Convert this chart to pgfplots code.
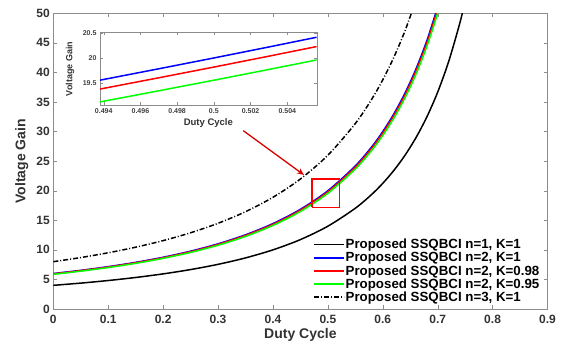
\documentclass[border=0pt]{standalone}
\usepackage{fontspec}
\setmainfont{Liberation Sans}
\usepackage{pgfplots}
\pgfplotsset{compat=1.18}
\usetikzlibrary{arrows.meta}
\definecolor{axgray}{gray}{0.55}
\definecolor{mred}{rgb}{1,0,0}
\definecolor{mblue}{rgb}{0,0,1}
\definecolor{mgreen}{rgb}{0,1,0}
\begin{document}
\begin{tikzpicture}
\begin{axis}[name=main, at={(0,0)}, anchor=south west, scale only axis,
  width=494.2pt, height=295.7pt,
  xmin=0, xmax=0.9, ymin=0, ymax=50,
  xtick={0,0.1,0.2,0.3,0.4,0.5,0.6,0.7,0.8,0.9},
  xticklabels={0,0.1,0.2,0.3,0.4,0.5,0.6,0.7,0.8,0.9},
  ytick={0,5,10,15,20,25,30,35,40,45,50},
  yticklabels={0,5,10,15,20,25,30,35,40,45,50},
  tick align=inside, major tick length=4pt,
  axis line style={axgray}, tick style={axgray},
  ticklabel style={font=\fontsize{12}{14}\selectfont\bfseries, text=black!80},
  xticklabel style={yshift=-3pt},
  xlabel={Duty Cycle}, ylabel={Voltage Gain},
  label style={font=\fontsize{14}{16}\selectfont\bfseries, text=black!80},
  xlabel style={at={(axis description cs:0.5,0)}, anchor=center, yshift=-26pt},
  ylabel style={at={(axis description cs:0,0.5)}, anchor=center, yshift=31.6pt},
  legend style={at={(0.5255,0)}, anchor=south west, xshift=-1pt, yshift=4pt, draw=none, fill=white,
    font=\fontsize{13.3}{14}\selectfont\bfseries, row sep=0pt, inner sep=1pt,
    nodes={inner xsep=1pt, inner ysep=1pt}},
  legend cell align=left,
  legend image code/.code={\draw[#1, line width=1.5pt] (0pt,0pt) -- (30pt,0pt);},
]
\addplot[color=black, line width=1.5pt, smooth] coordinates {
(0,4) (0.05,4.3767) (0.1,4.8148) (0.15,5.3287) (0.2,5.9375) (0.25,6.6667) (0.3,7.5510) (0.35,8.6391) (0.4,10) (0.45,11.7355) (0.5,14) (0.55,17.037) (0.58,19.388) (0.6,21.25) (0.62,23.407) (0.64,25.926) (0.66,28.893) (0.68,32.422) (0.7,36.667) (0.72,41.837) (0.74,48.225) (0.75,52)};
\addlegendentry{Proposed SSQBCI n=1, K=1}
\addplot[color=mblue, line width=1.5pt, smooth] coordinates {
(0,6) (0.05,6.5374) (0.1,7.1605) (0.15,7.8893) (0.2,8.75) (0.25,9.7778) (0.3,11.0204) (0.35,12.5444) (0.4,14.4444) (0.45,16.8595) (0.5,20) (0.55,24.1975) (0.58,27.4376) (0.6,30) (0.62,32.964) (0.64,36.420) (0.66,40.484) (0.68,45.313) (0.7,51.111) (0.71,54.459)};
\addlegendentry{Proposed SSQBCI n=2, K=1}
\addplot[color=mred, line width=1.5pt, smooth] coordinates {
(0,5.946) (0.05,6.4786) (0.1,7.0961) (0.15,7.8183) (0.2,8.6713) (0.25,9.6898) (0.3,10.9212) (0.35,12.4315) (0.4,14.3144) (0.45,16.7078) (0.5,19.82) (0.55,23.9797) (0.58,27.1907) (0.6,29.73) (0.62,32.6673) (0.64,36.0922) (0.66,40.1196) (0.68,44.9052) (0.7,50.651) (0.71,53.969)};
\addlegendentry{Proposed SSQBCI n=2, K=0.98}
\addplot[color=mgreen, line width=1.5pt, smooth] coordinates {
(0,5.868) (0.05,6.3936) (0.1,7.0030) (0.15,7.7157) (0.2,8.5575) (0.25,9.5627) (0.3,10.7780) (0.35,12.2684) (0.4,14.1266) (0.45,16.4886) (0.5,19.56) (0.55,23.6652) (0.58,26.8340) (0.6,29.34) (0.62,32.2388) (0.64,35.6188) (0.66,39.5934) (0.68,44.3161) (0.7,49.9866) (0.71,53.261)};
\addlegendentry{Proposed SSQBCI n=2, K=0.95}
\addplot[color=black, line width=1.5pt, smooth, dash pattern=on 5pt off 2pt on 1pt off 2pt] coordinates {
(0,8) (0.05,8.6981) (0.1,9.5062) (0.15,10.4498) (0.2,11.5625) (0.25,12.8889) (0.3,14.4898) (0.35,16.4497) (0.4,18.8889) (0.45,21.9835) (0.5,26) (0.55,31.358) (0.58,35.488) (0.6,38.75) (0.62,42.521) (0.64,46.914) (0.66,52.076)};
\addlegendentry{Proposed SSQBCI n=3, K=1}
\addplot[color=mred, line width=1.5pt, forget plot] coordinates {(0.4707,17.2) (0.5209,17.2) (0.5209,22) (0.4707,22) (0.4707,17.2)};
\draw[color=mred!85!black, line width=1.3pt, -{Stealth[length=7pt,width=6pt]}] (axis cs:0.346,30.15) -- (axis cs:0.4566,22.66);
\end{axis}
\begin{axis}[at={(46.7pt,204pt)}, anchor=south west, scale only axis,
  width=216.7pt, height=72.3pt,
  xmin=0.4938, xmax=0.5056, ymin=19.07, ymax=20.5,
  axis background/.style={fill=white},
  xtick={0.494,0.496,0.498,0.5,0.502,0.504},
  xticklabels={0.494,0.496,0.498,0.5,0.502,0.504},
  ytick={19.5,20,20.5}, yticklabels={19.5,20,20.5},
  tick align=inside, major tick length=2.5pt,
  axis line style={axgray}, tick style={axgray},
  ticklabel style={font=\fontsize{7}{8}\selectfont\bfseries, text=black!75},
  xlabel={Duty Cycle}, ylabel={Voltage Gain},
  xlabel style={font=\fontsize{9.5}{11}\selectfont\bfseries, text=black!80, at={(axis description cs:0.5,0)}, anchor=center, yshift=-18pt},
  ylabel style={font=\fontsize{9}{10}\selectfont\bfseries, text=black!80, at={(axis description cs:0,0.5)}, anchor=center, yshift=30pt},
]
\addplot[color=mblue, line width=1.5pt] coordinates {(0.4938,19.561) (0.497,19.786) (0.5,20) (0.503,20.218) (0.5056,20.410)};
\addplot[color=mred, line width=1.5pt] coordinates {(0.4938,19.385) (0.497,19.608) (0.5,19.82) (0.503,20.036) (0.5056,20.226)};
\addplot[color=mgreen, line width=1.5pt] coordinates {(0.4938,19.131) (0.497,19.351) (0.5,19.56) (0.503,19.773) (0.5056,19.961)};
\end{axis}
\pgfresetboundingbox
\path (-53.3pt,-38pt) rectangle (510.7pt,309pt);
\end{tikzpicture}
\end{document}
